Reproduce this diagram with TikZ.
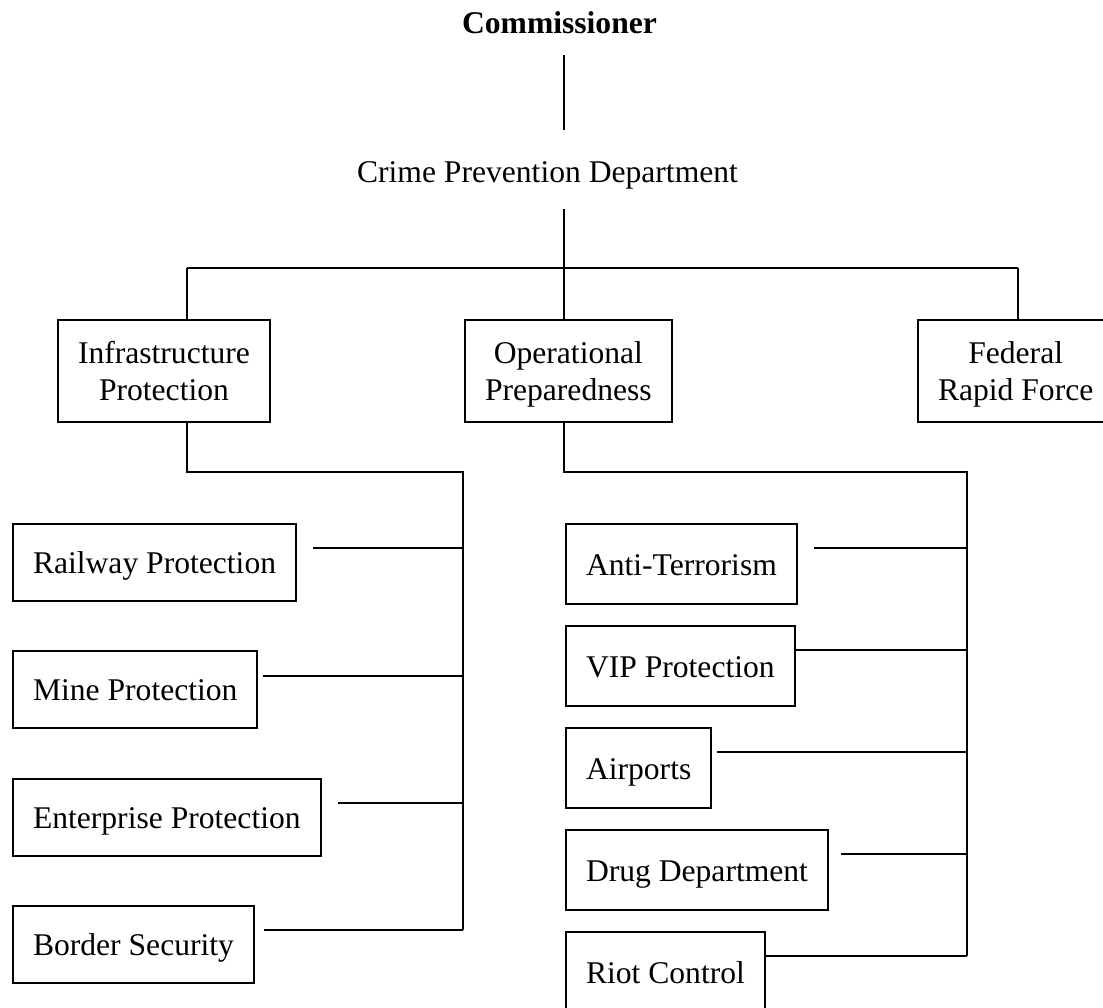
\documentclass[tikz,border=0pt]{standalone}
\usepackage{fontspec}
\setmainfont{Liberation Serif}
\begin{document}
\begin{tikzpicture}[x=1pt,y=-1pt, line width=2pt,
  every node/.style={font=\fontsize{31.6pt}{36.6pt}\selectfont},
  box/.style={draw, line width=2pt, inner xsep=20pt, inner ysep=0pt, anchor=north west},
  lbox/.style={box, text height=49.5pt, text depth=27pt},
  rbox/.style={box, text height=51.8pt, text depth=28.6pt},
  tbox/.style={box, align=center},
  link/.style={line width=2pt}]
\useasboundingbox (0,0) rectangle (1103,1007);

% titles
\node[anchor=base, font=\fontsize{31.6pt}{36.6pt}\selectfont\bfseries] (comm) at (559.5,33) {Commissioner};
\node[anchor=base] (cpd) at (547.5,182) {Crime Prevention Department};

% second level boxes
\node[tbox] (infra) at (57,319) {\rule{0pt}{43.7pt}Infrastructure\\Protection\rule[-21.7pt]{0pt}{21.7pt}};
\node[tbox] (oper) at (464,319) {\rule{0pt}{43.7pt}Operational\\Preparedness\rule[-21.7pt]{0pt}{21.7pt}};
\node[tbox] (fed) at (917,319) {\rule{0pt}{43.7pt}Federal\\Rapid Force\rule[-21.7pt]{0pt}{21.7pt}};

% left column
\node[lbox] (rail) at (12,523) {Railway Protection};
\node[lbox] (mine) at (12,650) {Mine Protection};
\node[lbox] (ent) at (12,778) {Enterprise Protection};
\node[lbox] (border) at (12,905) {Border Security};

% right column
\node[rbox] (anti) at (565,523) {Anti-Terrorism};
\node[rbox] (vip) at (565,625) {VIP Protection};
\node[rbox] (air) at (565,727) {Airports};
\node[rbox] (drug) at (565,829) {Drug Department};
\node[rbox] (riot) at (565,931) {Riot Control};

% coordinates
\coordinate (c1) at (564,55);
\coordinate (c2) at (564,130);
\coordinate (c3) at (564,209);
\coordinate (busL) at (187,268);
\coordinate (busM) at (564,268);
\coordinate (busR) at (1018,268);
\coordinate (ltop) at (463,472);
\coordinate (lbot) at (463,930);
\coordinate (rtop) at (967,472);
\coordinate (rbot) at (967,956);

% connectors
\draw[link] (c1) -- (c2);
\draw[link] (c3) -- (busM);
\draw[link] (busL) -- (busR);
\draw[link] (busL) -- (busL |- infra.north);
\draw[link] (busM) -- (busM |- oper.north);
\draw[link] (busR) -- (busR |- fed.north);

\draw[link] (busL |- infra.south) |- (ltop) -- (lbot);
\draw[link] (busM |- oper.south) |- (rtop) -- (rbot);

\draw[link] ([shift={(16,25)}]rail.north east) coordinate (t1) -- (t1 -| ltop);
\draw[link] ([shift={(5,26)}]mine.north east) coordinate (t2) -- (t2 -| ltop);
\draw[link] ([shift={(16,25)}]ent.north east) coordinate (t3) -- (t3 -| ltop);
\draw[link] ([shift={(9,25)}]border.north east) coordinate (t4) -- (t4 -| ltop);

\draw[link] ([shift={(16,25)}]anti.north east) coordinate (u1) -- (u1 -| rtop);
\draw[link] ([shift={(0,25)}]vip.north east) coordinate (u2) -- (u2 -| rtop);
\draw[link] ([shift={(5,25)}]air.north east) coordinate (u3) -- (u3 -| rtop);
\draw[link] ([shift={(12,25)}]drug.north east) coordinate (u4) -- (u4 -| rtop);
\draw[link] ([shift={(0,25)}]riot.north east) coordinate (u5) -- (u5 -| rtop);
\end{tikzpicture}
\end{document}
